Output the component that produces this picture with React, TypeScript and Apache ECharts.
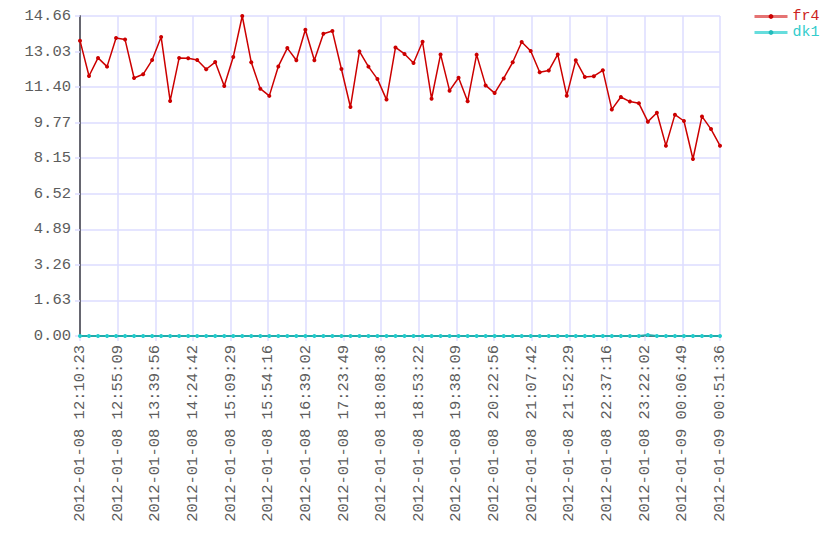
import React, { useEffect, useRef } from "react";
import * as echarts from "echarts";

// Time span of the x axis, in seconds from the first sample (2012-01-08 12:10:23)
const SPAN_SECONDS = 45673;
const SAMPLE_COUNT = 72;

const X_TICK_LABELS = [
  "2012-01-08 12:10:23", "2012-01-08 12:55:09", "2012-01-08 13:39:56",
  "2012-01-08 14:24:42", "2012-01-08 15:09:29", "2012-01-08 15:54:16",
  "2012-01-08 16:39:02", "2012-01-08 17:23:49", "2012-01-08 18:08:36",
  "2012-01-08 18:53:22", "2012-01-08 19:38:09", "2012-01-08 20:22:56",
  "2012-01-08 21:07:42", "2012-01-08 21:52:29", "2012-01-08 22:37:16",
  "2012-01-08 23:22:02", "2012-01-09 00:06:49", "2012-01-09 00:51:36",
];

const Y_TICK_LABELS = [
  "0.00", "1.63", "3.26", "4.89", "6.52", "8.15", "9.77", "11.40", "13.03", "14.66",
];

const fr4Values = [
  13.53, 11.91, 12.74, 12.34, 13.65, 13.58, 11.82, 11.99, 12.64, 13.70,
  10.77, 12.74, 12.72, 12.64, 12.22, 12.55, 11.45, 12.78, 14.66, 12.54,
  11.33, 11.00, 12.35, 13.19, 12.63, 14.03, 12.63, 13.85, 13.97, 12.23,
  10.49, 13.04, 12.34, 11.77, 10.83, 13.22, 12.92, 12.51, 13.48, 10.87,
  12.90, 11.24, 11.83, 10.75, 12.89, 11.48, 11.13, 11.80, 12.54, 13.47,
  13.06, 12.08, 12.16, 12.90, 11.01, 12.63, 11.87, 11.90, 12.17, 10.38,
  10.95, 10.74, 10.66, 9.82, 10.23, 8.72, 10.14, 9.85, 8.11, 10.06,
  9.48, 8.72,
];

const dk1Values = [
  0, 0, 0, 0, 0, 0, 0, 0, 0, 0,
  0, 0, 0, 0, 0, 0, 0, 0, 0, 0,
  0, 0, 0, 0, 0, 0, 0, 0, 0, 0,
  0, 0, 0, 0, 0, 0, 0, 0, 0, 0,
  0, 0, 0, 0, 0, 0, 0, 0, 0, 0,
  0, 0, 0, 0, 0, 0, 0, 0, 0, 0,
  0, 0, 0, 0.05, 0, 0, 0, 0, 0, 0,
  0, 0,
];

// sample times (seconds after the first sample), evenly spaced over the span
const sampleSeconds = Array.from(
  { length: SAMPLE_COUNT },
  (_, i) => (i * SPAN_SECONDS) / (SAMPLE_COUNT - 1)
);

const FONT = "'Liberation Mono', 'DejaVu Sans Mono', monospace";

export default function App() {
  const ref = useRef<HTMLDivElement>(null);

  useEffect(() => {
    if (!ref.current) return;
    const chart = echarts.init(ref.current, undefined, { renderer: "svg" });
    const pair = (vals: number[]) => vals.map((v, i) => [sampleSeconds[i], v]);
    chart.setOption({
      animation: false,
      backgroundColor: "#ffffff",
      grid: { left: 80, top: 16, right: 120, bottom: 224, containLabel: false },
      legend: {
        orient: "vertical",
        left: 753,
        top: 9,
        padding: 0,
        itemWidth: 33,
        itemHeight: 6,
        itemGap: 1,
        textStyle: { fontFamily: FONT, fontSize: 15, lineHeight: 14 },
        data: [
          {
            name: "fr4",
            textStyle: { color: "#cc2222" },
            lineStyle: { color: "#e57373", width: 3 },
            itemStyle: { color: "#cc0000" },
          },
          {
            name: "dk1",
            textStyle: { color: "#33cccc" },
            lineStyle: { color: "#66dddd", width: 3 },
            itemStyle: { color: "#22bbbb" },
          },
        ],
      },
      xAxis: {
        type: "value",
        min: 0,
        max: SPAN_SECONDS,
        interval: SPAN_SECONDS / 17,
        axisLine: { show: true, lineStyle: { color: "#666670", width: 2 } },
        axisTick: { show: true, length: 5, lineStyle: { color: "#dcdcff", width: 1.5 } },
        splitLine: { show: true, lineStyle: { color: "#dcdcff", width: 1.5 } },
        axisLabel: {
          rotate: 90,
          margin: 9,
          fontFamily: FONT,
          fontSize: 15.5,
          color: "#5c5c5c",
          formatter: (_v: number, i: number) => X_TICK_LABELS[i] ?? "",
        },
      },
      yAxis: {
        type: "value",
        min: 0,
        max: 14.66,
        interval: 14.66 / 9,
        axisLine: { show: true, lineStyle: { color: "#666670", width: 2 } },
        axisTick: { show: true, length: 5, lineStyle: { color: "#dcdcff", width: 1.5 } },
        splitLine: { show: true, lineStyle: { color: "#dcdcff", width: 1.5 } },
        axisLabel: {
          margin: 9,
          fontFamily: FONT,
          fontSize: 15.5,
          color: "#5c5c5c",
          formatter: (_v: number, i: number) => Y_TICK_LABELS[i] ?? "",
        },
      },
      series: [
        {
          name: "fr4",
          type: "line",
          data: pair(fr4Values),
          symbol: "circle",
          symbolSize: 4,
          showAllSymbol: true,
          color: "#cc0000",
          lineStyle: { color: "#cc0000", width: 1.5 },
          itemStyle: { color: "#cc0000" },
          z: 3,
        },
        {
          name: "dk1",
          type: "line",
          data: pair(dk1Values),
          symbol: "circle",
          symbolSize: 4,
          showAllSymbol: true,
          color: "#22cccc",
          lineStyle: { color: "#22aaaa", width: 2 },
          itemStyle: { color: "#22cccc" },
          z: 4,
        },
      ],
    });
    return () => chart.dispose();
  }, []);

  return <div ref={ref} style={{ width: 840, height: 560, position: "absolute", left: 0, top: 0 }} />;
}
